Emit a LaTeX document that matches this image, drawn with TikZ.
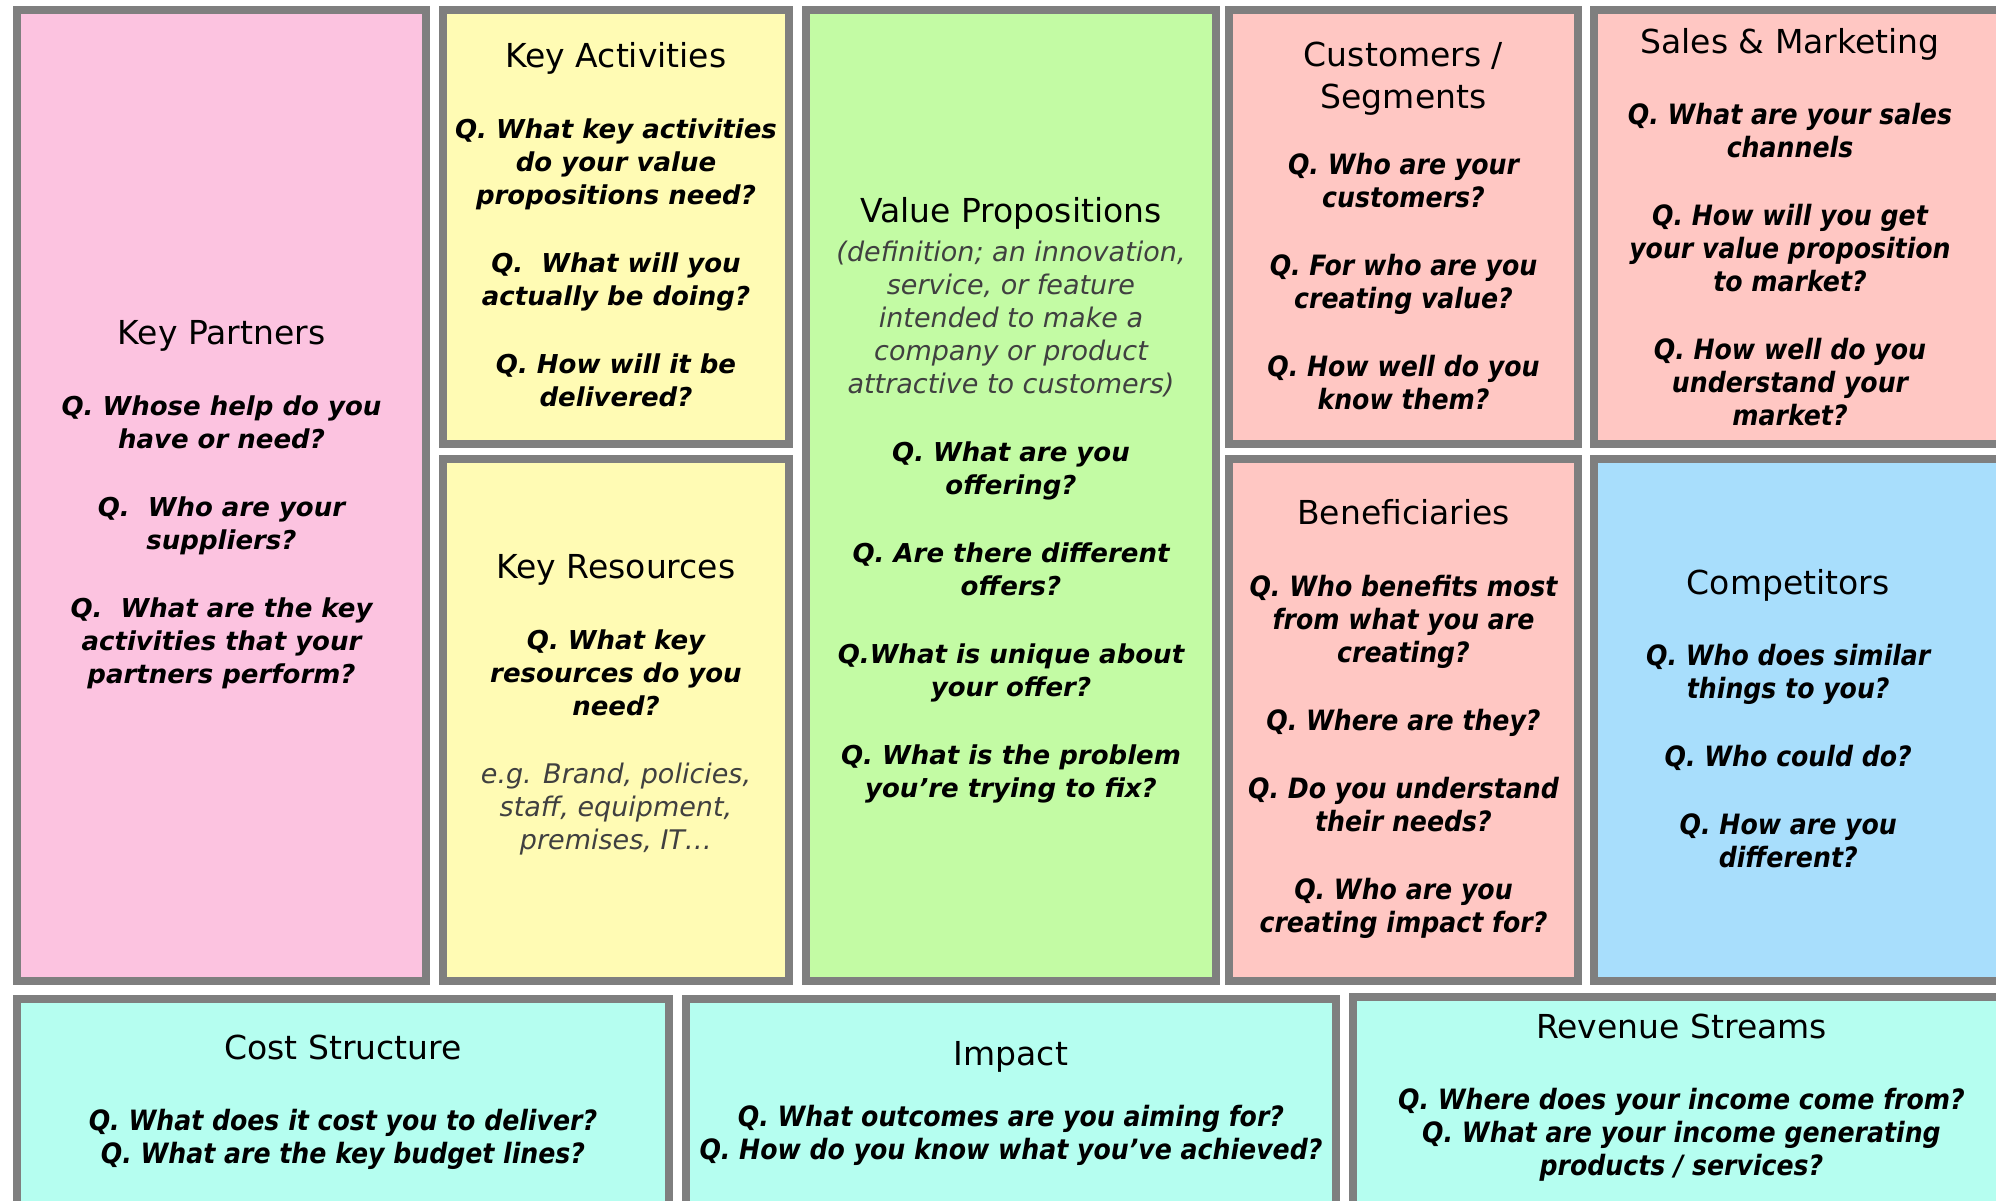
\documentclass[tikz,border=0pt]{standalone}
\usepackage{fontspec}
\setmainfont{DejaVu Sans}
\newfontfamily\narrowfont{DejaVu Sans Condensed}
\usetikzlibrary{fit}

\definecolor{panegray}{HTML}{7F7F7F}
\definecolor{partnerpink}{HTML}{FCC3E0}
\definecolor{activityyellow}{HTML}{FFFBB4}
\definecolor{valuegreen}{HTML}{C3FBA4}
\definecolor{customersalmon}{HTML}{FFC7C3}
\definecolor{rivalblue}{HTML}{A8DEFC}
\definecolor{moneyaqua}{HTML}{B5FEF0}
\definecolor{notegray}{HTML}{404040}

% text pieces used inside the panes
\newcommand{\paneTitle}[1]{{\normalfont\fontsize{13.2}{16.8}\selectfont #1}}
\newcommand{\paneNote}[1]{{\mdseries\fontsize{10.8}{13.4}\selectfont\color{notegray}#1}}
\newcommand{\qgap}{\\[14pt]}
\newcommand{\tgap}{\\[15.4pt]}

\begin{document}
\begin{tikzpicture}[x=0.4pt, y=-0.4pt,
    pane/.style={draw=panegray, line width=3.2pt, inner sep=0pt},
    lefttext/.style={align=center, inner sep=0pt,
                     font=\fontsize{10.4}{13.2}\selectfont\bfseries\itshape},
    righttext/.style={align=center, inner sep=0pt,
                      font=\narrowfont\fontsize{11.2}{13.2}\selectfont\bfseries\itshape},
  ]
  \useasboundingbox (0,0) rectangle (1996,1201);
  \clip (0,0) rectangle (1996,1201);
  \fill[white] (0,0) rectangle (1996,1201);

  % the panes
  \node[pane, fill=partnerpink,    fit={(17,10) (426,981)}]     (KP) {};
  \node[pane, fill=activityyellow, fit={(443,10) (789,444)}]    (KA) {};
  \node[pane, fill=activityyellow, fit={(443,459) (789,981)}]   (KR) {};
  \node[pane, fill=valuegreen,     fit={(806,10) (1216,981)}]   (VP) {};
  \node[pane, fill=customersalmon, fit={(1229,10) (1578,444)}]  (CS) {};
  \node[pane, fill=customersalmon, fit={(1594,10) (2010,444)}]  (SM) {};
  \node[pane, fill=customersalmon, fit={(1229,459) (1578,981)}] (BN) {};
  \node[pane, fill=rivalblue,      fit={(1594,459) (2010,981)}] (CP) {};
  \node[pane, fill=moneyaqua,      fit={(17,999) (669,1208)}]   (CO) {};
  \node[pane, fill=moneyaqua,      fit={(686,999) (1336,1208)}] (IM) {};
  \node[pane, fill=moneyaqua,      fit={(1353,997) (2010,1208)}] (RS) {};

  % questions, upper block
  \node[lefttext] (KPtext) at ([yshift=-3.6pt]KP.center) {%
    \paneTitle{Key Partners}\tgap
    Q. Whose help do you\\ have or need?\qgap
    Q.\ \ Who are your\\ suppliers?\qgap
    Q.\ \ What are the key\\ activities that your\\ partners perform?};
  \node[lefttext] (KAtext) at ([yshift=1pt]KA.center) {%
    \paneTitle{Key Activities}\tgap
    Q. What key activities\\ do your value\\ propositions need?\qgap
    Q.\ \ What will you\\ actually be doing?\qgap
    Q. How will it be\\ delivered?};
  \node[lefttext] (KRtext) at ([yshift=6.1pt]KR.center) {%
    \paneTitle{Key Resources}\tgap
    Q. What key\\ resources do you\\ need?\qgap
    \paneNote{e.g. Brand, policies,}\\
    \paneNote{staff, equipment,}\\
    \paneNote{premises, IT…}};
  \node[lefttext] (VPtext) at ([yshift=-2pt]VP.center) {%
    \paneTitle{Value Propositions}\\[2.6pt]
    \paneNote{(definition; an innovation,}\\
    \paneNote{service, or feature}\\
    \paneNote{intended to make a}\\
    \paneNote{company or product}\\
    \paneNote{attractive to customers)}\qgap
    Q. What are you\\ offering?\qgap
    Q. Are there different\\ offers?\qgap
    Q.What is unique about\\ your offer?\qgap
    Q. What is the problem\\ you’re trying to fix?};
  \node[righttext] (CStext) at ([yshift=0.5pt]CS.center) {%
    \paneTitle{Customers /}\\[3.6pt]
    \paneTitle{Segments}\\[13.4pt]
    Q. Who are your\\ customers?\qgap
    Q. For who are you\\ creating value?\qgap
    Q. How well do you\\ know them?};
  \node[righttext] (SMtext) at ([xshift=-4.8pt]SM.center) {%
    \paneTitle{Sales \& Marketing}\tgap
    Q. What are your sales\\ channels\qgap
    Q. How will you get\\ your value proposition\\ to market?\qgap
    Q. How well do you\\ understand your\\ market?};
  \node[righttext] (BNtext) at ([yshift=0.5pt]BN.center) {%
    \paneTitle{Beneficiaries}\tgap
    Q. Who benefits most\\ from what you are\\ creating?\qgap
    Q. Where are they?\qgap
    Q. Do you understand\\ their needs?\qgap
    Q. Who are you\\ creating impact for?};
  \node[righttext] (CPtext) at ([xshift=-5.5pt, yshift=0.5pt]CP.center) {%
    \paneTitle{Competitors}\tgap
    Q. Who does similar\\ things to you?\qgap
    Q. Who could do?\qgap
    Q. How are you\\ different?};

  % questions, bottom strip
  \node[righttext] (COtext) at ([yshift=0.5pt]CO.center) {%
    \paneTitle{Cost Structure}\tgap
    Q. What does it cost you to deliver?\\
    Q. What are the key budget lines?};
  \node[righttext] (IMtext) at (IM.center) {%
    \paneTitle{Impact}\\[11pt]
    Q. What outcomes are you aiming for?\\
    Q. How do you know what you’ve achieved?};
  \node[righttext] (RStext) at ([yshift=2pt]RS.center) {%
    \paneTitle{Revenue Streams}\tgap
    Q. Where does your income come from?\\
    Q. What are your income generating\\
    products / services?};
\end{tikzpicture}
\end{document}
